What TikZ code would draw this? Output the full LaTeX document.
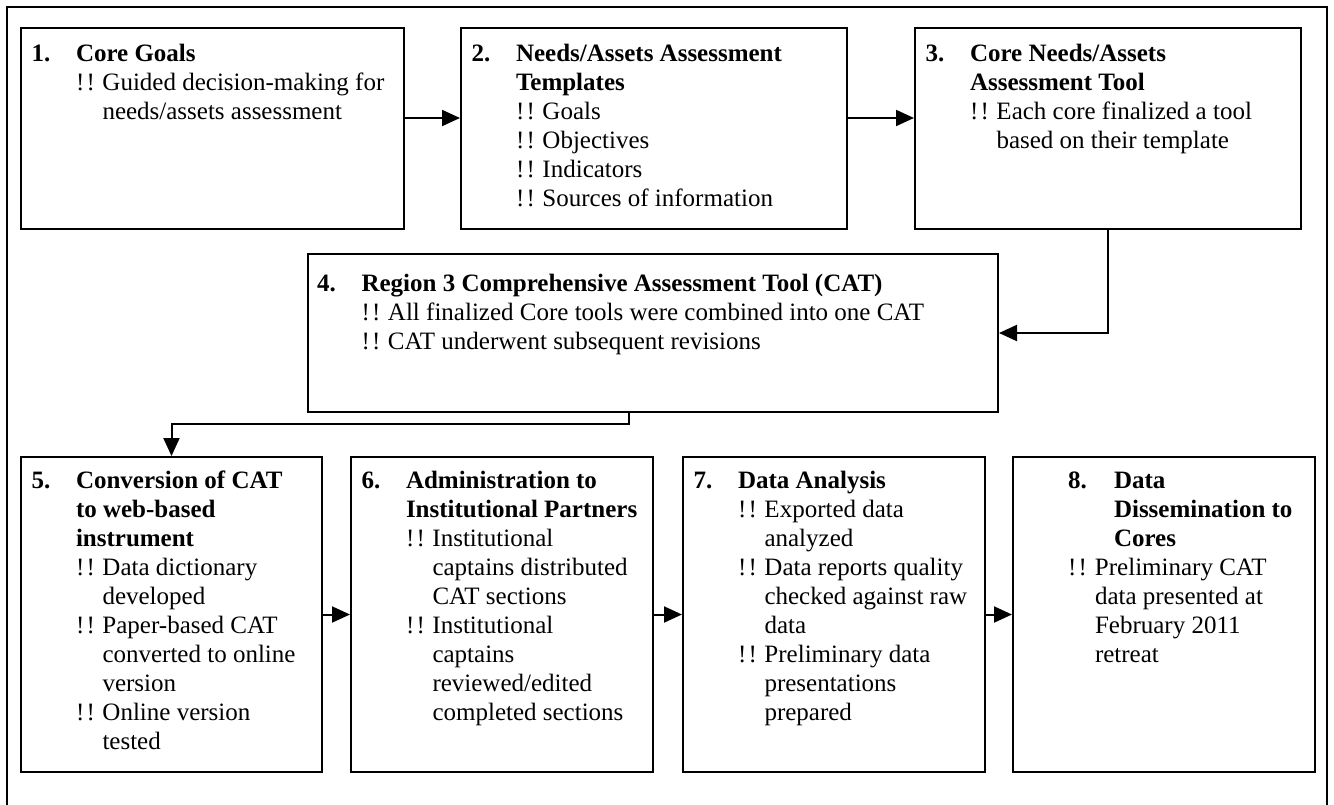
\documentclass[tikz,border=0pt]{standalone}
\usepackage{fontspec}
\setmainfont{Liberation Serif}
\usetikzlibrary{arrows.meta,calc}
\newcommand\nh[2]{\strut\makebox[44.5pt][l]{\textbf{#1}}\textbf{#2}}
\newcommand\hc[1]{\strut\hspace*{44.5pt}\textbf{#1}}
\newcommand\bb{!\kern2.2pt!}
\newcommand\bu[1]{\strut\hspace*{44.5pt}\makebox[26.5pt][l]{\bb}#1}
\newcommand\bc[1]{\strut\hspace*{71pt}#1}
\begin{document}
\begin{tikzpicture}[x=1pt,y=-1pt,
  box/.style={draw, line width=2pt, rectangle, inner sep=0pt},
  txt/.style={anchor=north west, inner sep=0pt, outer sep=0pt, align=left, font=\fontsize{25pt}{29pt}\selectfont},
  arr/.style={draw, line width=2pt, -{Triangle[length=18pt,width=16pt]}}]
\useasboundingbox (0,0) rectangle (1334,804);
% outer frame (open at the bottom)
\draw[line width=2pt] (7,806) -- (7,7) -- (1327,7) -- (1327,806);
% boxes
\node[box, minimum width=383pt, minimum height=201pt] (b1) at (212.5,128.5) {};
\node[box, minimum width=386pt, minimum height=201pt] (b2) at (654,128.5) {};
\node[box, minimum width=386pt, minimum height=201pt] (b3) at (1108,128.5) {};
\node[box, minimum width=690pt, minimum height=158pt] (b4) at (653,333) {};
\node[box, minimum width=301pt, minimum height=315pt] (b5) at (171.5,614.5) {};
\node[box, minimum width=302pt, minimum height=315pt] (b6) at (502,614.5) {};
\node[box, minimum width=302pt, minimum height=315pt] (b7) at (834,614.5) {};
\node[box, minimum width=302pt, minimum height=315pt] (b8) at (1164,614.5) {};
% texts
\node[txt] (t1) at ($(b1.north west)+(11.5,14)$) {\nh{1.}{Core Goals}\\ \bu{Guided decision-making for}\\ \bc{needs/assets assessment}};
\node[txt] (t2) at ($(b2.north west)+(11.5,14)$) {\nh{2.}{Needs/Assets Assessment}\\ \hc{Templates}\\ \bu{Goals}\\ \bu{Objectives}\\ \bu{Indicators}\\ \bu{Sources of information}};
\node[txt] (t3) at ($(b3.north west)+(11.5,14)$) {\nh{3.}{Core Needs/Assets}\\ \hc{Assessment Tool}\\ \bu{Each core finalized a tool}\\ \bc{based on their template}};
\node[txt] (t4) at ($(b4.north west)+(10,18)$) {\nh{4.}{Region 3 Comprehensive Assessment Tool (CAT)}\\ \bu{All finalized Core tools were combined into one CAT}\\ \bu{CAT underwent subsequent revisions}};
\node[txt] (t5) at ($(b5.north west)+(11.5,12)$) {\nh{5.}{Conversion of CAT}\\ \hc{to web-based}\\ \hc{instrument}\\ \bu{Data dictionary}\\ \bc{developed}\\ \bu{Paper-based CAT}\\ \bc{converted to online}\\ \bc{version}\\ \bu{Online version}\\ \bc{tested}};
\node[txt] (t6) at ($(b6.north west)+(11.5,12)$) {\nh{6.}{Administration to}\\ \hc{Institutional Partners}\\ \bu{Institutional}\\ \bc{captains distributed}\\ \bc{CAT sections}\\ \bu{Institutional}\\ \bc{captains}\\ \bc{reviewed/edited}\\ \bc{completed sections}};
\node[txt] (t7) at ($(b7.north west)+(11.5,12)$) {\nh{7.}{Data Analysis}\\ \bu{Exported data}\\ \bc{analyzed}\\ \bu{Data reports quality}\\ \bc{checked against raw}\\ \bc{data}\\ \bu{Preliminary data}\\ \bc{presentations}\\ \bc{prepared}};
\node[txt] (t8) at ($(b8.north west)+(56,12)$) {\strut\makebox[46pt][l]{\textbf{8.}}\textbf{Data}\\ \strut\hspace*{46pt}\textbf{Dissemination to}\\ \strut\hspace*{46pt}\textbf{Cores}\\ \strut\makebox[27pt][l]{\bb}Preliminary CAT\\ \strut\hspace*{27pt}data presented at\\ \strut\hspace*{27pt}February 2011\\ \strut\hspace*{27pt}retreat};
% connectors
\draw[arr] ([yshift=10.5pt]b1.east) -- ([yshift=10.5pt]b1.east -| b2.west);
\draw[arr] ([yshift=10.5pt]b2.east) -- ([yshift=10.5pt]b2.east -| b3.west);
\draw[arr] (b3.south) |- (b4.east);
\draw[arr] ([xshift=-24pt]b4.south) -- ++(0,11) -| (b5.north);
\draw[arr] (b5.east) -- (b6.west);
\draw[arr] (b6.east) -- (b7.west);
\draw[arr] (b7.east) -- (b8.west);
\end{tikzpicture}
\end{document}
